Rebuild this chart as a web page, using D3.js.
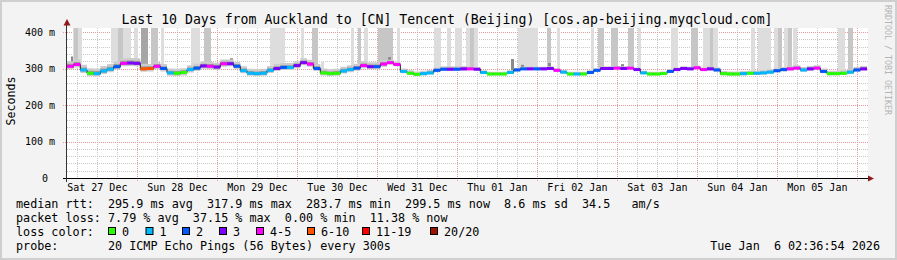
<!DOCTYPE html>
<html>
<head>
<meta charset="utf-8">
<script src="https://cdn.jsdelivr.net/npm/d3@7"></script>
<style>
  html, body { margin: 0; padding: 0; background: #f3f3f3; }
  svg { display: block; }
  text { font-family: "DejaVu Sans Mono", monospace; fill: #000; white-space: pre; }
</style>
</head>
<body>
<div id="chart"></div>
<script>
// time window of the graph (UTC, so the page's timezone does not matter)
const startTime = Date.UTC(2025, 11, 26, 2, 54);
const endTime = Date.UTC(2026, 0, 5, 2, 54);
const stepHours = 2;

// median rtt in ms, one value per 2 hour step
const medianRtt = [
  306, 311, 296, 287, 286, 293, 298, 305, 314, 315, 314, 299,
  300, 306, 300, 288, 287, 289, 297, 301, 307, 306, 304, 313,
  313, 306, 294, 287, 286, 287, 295, 300, 303, 303, 308, 316,
  312, 300, 288, 286, 287, 293, 297, 301, 308, 305, 305, 312,
  316, 311, 292, 287, 284, 286, 288, 295, 298, 298, 298, 299,
  299, 298, 289, 285, 285, 285, 289, 296, 299, 299, 299, 299,
  300, 295, 290, 285, 285, 285, 289, 295, 300, 300, 301, 300,
  301, 297, 288, 285, 285, 286, 292, 297, 300, 299, 302, 297,
  299, 296, 286, 285, 285, 286, 287, 287, 288, 290, 294, 297,
  299, 301, 296, 299, 301, 292, 286, 286, 287, 290, 296, 299
];

// loss bucket per step (index into lossColors)
const lossBucket = [
  4, 4, 1, 0, 1, 1, 1, 2, 4, 3, 3, 5,
  5, 4, 2, 1, 0, 0, 1, 2, 3, 4, 3, 4,
  3, 2, 1, 1, 1, 1, 1, 3, 2, 1, 3, 3,
  4, 2, 0, 0, 0, 1, 1, 2, 4, 3, 2, 4,
  4, 4, 1, 0, 0, 1, 1, 2, 2, 3, 2, 3,
  4, 3, 1, 0, 0, 0, 1, 2, 2, 3, 2, 3,
  3, 4, 1, 0, 1, 0, 2, 2, 3, 3, 4, 3,
  4, 3, 1, 0, 0, 0, 2, 3, 3, 3, 4, 4,
  3, 2, 0, 0, 0, 1, 0, 1, 1, 1, 2, 2,
  4, 4, 1, 3, 4, 2, 0, 0, 0, 1, 2, 3
];

// spread of the smoke around the median, ms, one value per day
const smokeUp = [14, 12, 12, 12, 8, 6, 6, 6, 7, 8];
const smokeDown = [8, 8, 7, 7, 5, 4, 4, 4, 5, 5];

// slow pings: [start hour, end hour, highest rtt ms, pings]
const highPings = [
  [1.2, 2.1, 333, 5], [1.8, 4.5, 420, 1], [2.1, 3.3, 420, 2],
  [13.2, 19.2, 420, 1], [15.3, 16.8, 420, 2], [20.1, 21.3, 420, 1],
  [22.2, 24.3, 420, 3], [25.2, 27.3, 420, 2], [28.2, 29.1, 420, 1],
  [37.2, 39.9, 420, 1], [41.1, 43.2, 420, 2], [48.9, 49.8, 328, 5],
  [60.9, 65.4, 420, 1], [70.2, 71.1, 420, 1], [73.5, 75.3, 420, 2],
  [76.2, 77.1, 320, 1], [85.2, 86.1, 420, 1], [87.3, 88.2, 420, 2],
  [89.1, 90.3, 420, 1], [93.3, 97.8, 420, 2], [96.3, 97.2, 331, 5],
  [99.0, 99.9, 420, 1], [110.1, 112.2, 420, 1], [114.0, 115.2, 420, 1],
  [116.4, 118.5, 420, 1], [119.7, 123.3, 420, 1], [120.9, 122.1, 420, 2],
  [133.2, 134.1, 326, 5], [135.3, 141.3, 420, 1], [136.2, 137.1, 310, 5],
  [144.0, 145.2, 420, 2], [144.3, 145.2, 315, 5], [147.0, 147.9, 420, 1],
  [157.2, 158.1, 420, 1], [159.3, 161.1, 420, 2], [163.2, 165.3, 420, 2],
  [166.2, 167.1, 312, 5], [168.3, 170.1, 420, 2], [171.3, 172.2, 420, 1],
  [181.2, 183.3, 420, 1], [187.2, 189.3, 420, 2], [190.8, 192.9, 420, 1],
  [192.9, 193.8, 420, 2], [193.8, 195.3, 420, 1], [205.2, 206.4, 420, 1],
  [207.3, 211.2, 420, 1], [212.1, 213.3, 420, 1], [213.3, 214.5, 420, 2],
  [215.1, 216.3, 420, 1], [216.3, 217.5, 420, 2], [217.8, 219.0, 420, 1],
  [231.3, 233.4, 420, 1], [234.3, 235.8, 420, 2]
];

const lossLabels = ["0", "1", "2", "3", "4-5", "6-10", "11-19", "20/20"];
const lossColors = ["#26ff00", "#00b8ff", "#0059ff", "#7e00ff", "#ff00ff", "#ff5500", "#ff0000", "#a01200"];

const yTicks = [0, 100, 200, 300, 400];
const yTickLabels = ["0", "100 m", "200 m", "300 m", "400 m"];
const dayLabels = ["Sat 27 Dec", "Sun 28 Dec", "Mon 29 Dec", "Tue 30 Dec", "Wed 31 Dec",
                   "Thu 01 Jan", "Fri 02 Jan", "Sat 03 Jan", "Sun 04 Jan", "Mon 05 Jan"];

const title = "Last 10 Days from Auckland to [CN] Tencent (Beijing) [cos.ap-beijing.myqcloud.com]";
const rttLine = "median rtt:  295.9 ms avg  317.9 ms max  283.7 ms min  299.5 ms now  8.6 ms sd  34.5   am/s";
const lossLine = "packet loss: 7.79 % avg  37.15 % max  0.00 % min  11.38 % now";
const probeLine = "probe:       20 ICMP Echo Pings (56 Bytes) every 300s";
const stamp = "Tue Jan  6 02:36:54 2026";

const width = 897, height = 260;
const plotLeft = 67, plotRight = 867, plotTop = 28, plotBottom = 178;
const hour = 3600 * 1000;

const svg = d3.select("#chart").append("svg")
    .attr("width", width)
    .attr("height", height);

// frame
svg.append("rect").attr("x", 0).attr("y", 0).attr("width", width).attr("height", height).attr("fill", "#cfcfcf");
svg.append("rect").attr("x", 2).attr("y", 2).attr("width", width - 4).attr("height", height - 4).attr("fill", "#f3f3f3");

const x = d3.scaleUtc().domain([new Date(startTime), new Date(endTime)]).range([plotLeft, plotRight]);
const y = d3.scaleLinear().domain([0, 400]).range([178, 32]);
const px = v => Math.floor(v) + 0.5;
const py = v => Math.round(y(v)) + 0.5;

svg.append("rect")
    .attr("x", plotLeft).attr("y", plotTop)
    .attr("width", plotRight - plotLeft + 1).attr("height", plotBottom - plotTop)
    .attr("fill", "#fff");

// grid
const gridG = svg.append("g");
const minorTimes = d3.utcHour.every(6).range(new Date(startTime), new Date(endTime));
gridG.selectAll(".vmin").data(minorTimes.filter(d => d.getUTCHours() !== 0)).enter().append("line")
    .attr("x1", d => px(x(d))).attr("x2", d => px(x(d)))
    .attr("y1", plotTop).attr("y2", plotBottom)
    .attr("stroke", "#c8c8c8").attr("stroke-dasharray", "1,1");
const hValues = d3.range(20, 420, 20).filter(v => v % 100 !== 0);
gridG.selectAll(".hmin").data(hValues).enter().append("line")
    .attr("x1", plotLeft).attr("x2", plotRight + 1)
    .attr("y1", d => py(d)).attr("y2", d => py(d))
    .attr("stroke", "#c8c8c8").attr("stroke-dasharray", "1,1");
const dayTimes = d3.utcDay.range(new Date(startTime), new Date(endTime));
gridG.selectAll(".vmaj").data(dayTimes).enter().append("line")
    .attr("x1", d => px(x(d))).attr("x2", d => px(x(d)))
    .attr("y1", plotTop).attr("y2", plotBottom + 4)
    .attr("stroke", "#e89a9a").attr("stroke-dasharray", "1,1");
gridG.selectAll(".hmaj").data(yTicks.slice(1)).enter().append("line")
    .attr("x1", plotLeft - 4).attr("x2", plotRight + 1)
    .attr("y1", d => py(d)).attr("y2", d => py(d))
    .attr("stroke", "#e89a9a").attr("stroke-dasharray", "1,1");

const stepTime = i => new Date(startTime + i * stepHours * hour);
const medianAt = h => medianRtt[Math.min(medianRtt.length - 1, Math.floor(h / stepHours))];
const shade = n => n >= 5 ? "#8a8a8a" : n >= 3 ? "#a6a6a6" : n >= 2 ? "#c6c6c6" : "#dddddd";

// slow pings reaching up
svg.append("g").selectAll("rect").data(highPings).enter().append("rect")
    .attr("x", d => x(new Date(startTime + d[0] * hour)))
    .attr("width", d => x(new Date(startTime + d[1] * hour)) - x(new Date(startTime + d[0] * hour)))
    .attr("y", d => Math.max(plotTop, y(d[2])))
    .attr("height", d => y(medianAt((d[0] + d[1]) / 2)) - Math.max(plotTop, y(d[2])))
    .attr("fill", d => shade(d[3]));

// smoke around the median
const steps = medianRtt.map((m, i) => ({ t: stepTime(i), m: m, day: Math.floor(i * stepHours / 24) }));
steps.push({ t: new Date(endTime), m: medianRtt[medianRtt.length - 1], day: 9 });
const outer = d3.area().curve(d3.curveStepAfter)
    .x(d => x(d.t))
    .y0(d => y(d.m - smokeDown[d.day]))
    .y1(d => y(d.m + smokeUp[d.day]));
const inner = d3.area().curve(d3.curveStepAfter)
    .x(d => x(d.t))
    .y0(d => y(d.m - smokeDown[d.day] / 2))
    .y1(d => y(d.m + smokeUp[d.day] / 2));
svg.append("path").datum(steps).attr("d", outer).attr("fill", "#cccccc");
svg.append("path").datum(steps).attr("d", inner).attr("fill", "#9c9c9c");

// median line, black under the loss colours
const medLine = d3.line().curve(d3.curveStepAfter).x(d => x(d.t)).y(d => y(d.m));
svg.append("path").datum(steps).attr("d", medLine)
    .attr("fill", "none").attr("stroke", "#202020").attr("stroke-width", 1);
svg.append("g").selectAll("rect").data(medianRtt).enter().append("rect")
    .attr("x", (d, i) => x(stepTime(i)))
    .attr("width", (d, i) => x(stepTime(i + 1)) - x(stepTime(i)))
    .attr("y", d => y(d) - 1.5)
    .attr("height", 3)
    .attr("fill", (d, i) => lossColors[lossBucket[i]]);

// axes
svg.append("line").attr("x1", plotLeft - 4).attr("x2", plotRight + 2).attr("y1", 178.5).attr("y2", 178.5)
    .attr("stroke", "#000");
svg.append("line").attr("x1", 66.5).attr("x2", 66.5).attr("y1", 182).attr("y2", 24)
    .attr("stroke", "#333");
svg.append("path").attr("d", "M63.5,25.5L70.5,25.5L67,19Z").attr("fill", "#8c1c1c");
svg.append("path").attr("d", "M868,175.5L868,181.5L874,178.5Z").attr("fill", "#8c1c1c");

svg.append("g").selectAll("text").data(yTicks).enter().append("text")
    .attr("x", (d, i) => i === 0 ? 48 : 55)
    .attr("y", d => y(d) + 3.6)
    .attr("text-anchor", "end")
    .style("font-size", "10px")
    .text((d, i) => yTickLabels[i]);

svg.append("g").selectAll("text").data(dayLabels).enter().append("text")
    .attr("x", (d, i) => x(new Date(dayTimes[0].getTime() + (i - 0.5) * 24 * hour)))
    .attr("y", 191)
    .attr("text-anchor", "middle")
    .style("font-size", "10px")
    .text(d => d);

svg.append("text")
    .attr("transform", "translate(15,101) rotate(-90)")
    .attr("text-anchor", "middle")
    .style("font-size", "11.6px")
    .text("Seconds");

svg.append("text")
    .attr("transform", "translate(885,5) rotate(90)")
    .style("font-size", "8.3px")
    .style("fill", "#b4b4b4")
    .text("RRDTOOL / TOBI OETIKER");

svg.append("text")
    .attr("x", 447).attr("y", 23.5)
    .attr("text-anchor", "middle")
    .style("font-size", "13.2px")
    .text(title);

// legend
const boxX = [108, 145.5, 182, 219, 256, 307, 362, 430];
const legend = svg.append("g").style("font-size", "11.75px");
legend.append("text").attr("x", 16).attr("y", 207.5).text(rttLine);
legend.append("text").attr("x", 16).attr("y", 221.5).text(lossLine);
legend.append("text").attr("x", 16).attr("y", 235.5).text("loss color:");
legend.selectAll(".box").data(lossColors).enter().append("rect")
    .attr("x", (d, i) => boxX[i] + 0.5).attr("y", 227.5)
    .attr("width", 7).attr("height", 7)
    .attr("fill", d => d).attr("stroke", "#000");
legend.selectAll(".lab").data(lossLabels).enter().append("text")
    .attr("x", (d, i) => boxX[i] + 14).attr("y", 235.5).text(d => d);
legend.append("text").attr("x", 16).attr("y", 249.5).text(probeLine);
legend.append("text").attr("x", 880).attr("y", 249.5)
    .attr("text-anchor", "end").text(stamp);
</script>
</body>
</html>
